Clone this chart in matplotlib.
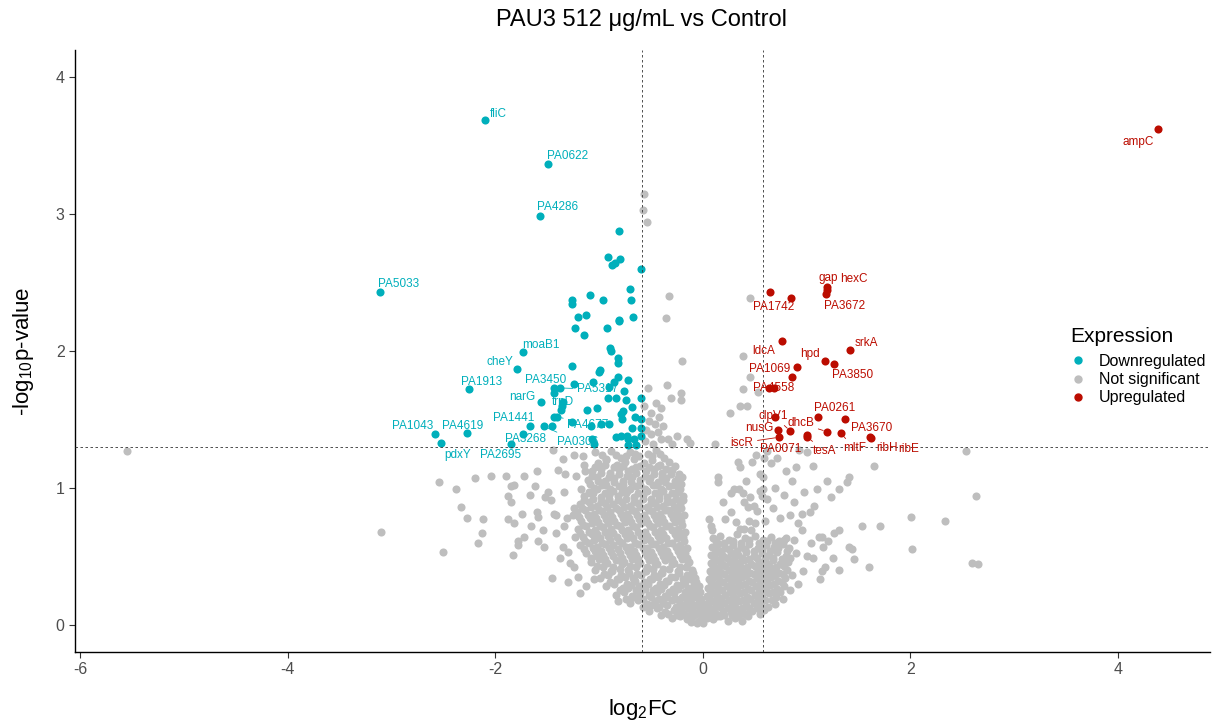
import matplotlib
matplotlib.use('Agg')
import matplotlib.pyplot as plt
from matplotlib.lines import Line2D

plt.rcParams['font.family'] = ['Liberation Sans', 'DejaVu Sans']
plt.rcParams['mathtext.fontset'] = 'custom'
plt.rcParams['mathtext.rm'] = 'Liberation Sans'
plt.rcParams['mathtext.it'] = 'Liberation Sans:italic'
plt.rcParams['axes.unicode_minus'] = False

# labelled downregulated genes
down_genes = ['fliC', 'PA0622', 'PA4286', 'PA5033', 'moaB1', 'cheY', 'PA1913', 'PA3450', 'PA5317', 'narG',
              'trpD', 'PA4677', 'PA1441', 'PA3268', 'PA0306', 'PA1043', 'PA4619', 'pdxY', 'PA2695']
down_x = [-2.10, -1.49, -1.57, -3.11, -1.73, -1.79, -2.25, -1.43, -1.375, -1.56,
          -1.36, -1.40, -1.66, -1.73, -1.53, -2.58, -2.27, -2.52, -1.85]
down_y = [3.69, 3.365, 2.99, 2.43, 1.99, 1.87, 1.72, 1.73, 1.73, 1.63,
          1.60, 1.52, 1.45, 1.39, 1.45, 1.39, 1.40, 1.33, 1.32]

# other downregulated genes (no label)
down_other = [(-0.81, 2.88), (-0.91, 2.69), (-0.80, 2.67), (-0.875, 2.63), (-0.846, 2.64), (-0.59, 2.60),
              (-0.70, 2.45), (-1.09, 2.41), (-1.26, 2.37), (-1.26, 2.34), (-0.96, 2.37), (-0.69, 2.37),
              (-1.20, 2.25), (-1.12, 2.26), (-0.81, 2.23), (-0.67, 2.25), (-1.23, 2.17), (-1.14, 2.12),
              (-0.92, 2.17), (-0.81, 2.22), (-0.89, 2.02), (-0.88, 2.00), (-0.82, 1.95), (-0.82, 1.91),
              (-1.26, 1.89), (-0.99, 1.86), (-1.00, 1.85), (-0.82, 1.81), (-0.72, 1.79), (-0.85, 1.77),
              (-1.06, 1.77), (-1.24, 1.76), (-0.90, 1.74), (-1.43, 1.69), (-0.76, 1.71), (-0.91, 1.66),
              (-0.84, 1.66), (-0.59, 1.66), (-0.74, 1.64), (-1.35, 1.63), (-1.37, 1.57), (-0.68, 1.59),
              (-1.115, 1.57), (-1.02, 1.58), (-0.77, 1.56), (-0.79, 1.54), (-0.78, 1.50), (-1.43, 1.52),
              (-0.65, 1.52), (-0.59, 1.50), (-1.26, 1.48), (-1.08, 1.45), (-0.98, 1.47), (-0.90, 1.47),
              (-1.45, 1.45), (-0.68, 1.44), (-0.59, 1.44), (-0.84, 1.37), (-0.79, 1.38), (-0.73, 1.38),
              (-0.72, 1.36), (-1.07, 1.36), (-0.66, 1.36), (-0.59, 1.38), (-0.72, 1.31), (-0.64, 1.31),
              (-1.05, 1.32)]

# labelled upregulated genes
up_genes = ['ampC', 'PA1742', 'gap', 'hexC', 'PA3672', 'ldcA', 'srkA', 'hpd', 'PA3850', 'PA1069',
            'PA4558', 'PA0261', 'PA3670', 'clpV1', 'nusG', 'dhcB', 'mltF', 'ribH', 'ribE', 'iscR',
            'PA0071', 'tesA']
up_x = [4.39, 0.645, 1.20, 1.20, 1.19, 0.76, 1.42, 1.18, 1.27, 0.91,
        0.635, 1.115, 1.375, 0.845, 0.73, 1.20, 1.33, 1.615, 1.625, 0.74,
        1.01, 1.01]
up_y = [3.62, 2.43, 2.47, 2.445, 2.42, 2.07, 2.01, 1.93, 1.905, 1.88,
        1.73, 1.52, 1.50, 1.415, 1.42, 1.41, 1.40, 1.37, 1.365, 1.37,
        1.385, 1.37]

up_other = [(0.85, 2.39), (0.865, 1.81), (0.69, 1.73), (0.70, 1.52)]

# not significant genes
ns_points = [
    # far / sparse
    (-5.55, 1.27), (-3.10, 0.68), (-2.54, 1.04), (-2.38, 0.99), (-2.19, 1.07), (-2.04, 1.09), (-1.90, 1.09),
    (-1.72, 1.09), (-1.60, 1.12), (-2.33, 0.86), (-2.27, 0.78), (-2.12, 0.77), (-2.13, 0.67), (-2.17, 0.60),
    (-2.50, 0.53), (-1.44, 1.28), (-1.35, 1.21), (-1.24, 1.24), (-1.15, 1.23), (-1.04, 1.26), (-1.39, 1.13),
    (-1.33, 1.10), (-1.14, 1.17), (-1.13, 1.12), (-1.22, 1.09), (-1.85, 1.01), (-1.82, 1.02), (-1.62, 1.01),
    (-1.66, 0.95), (-1.88, 0.94), (-1.85, 0.90), (-1.49, 0.97), (-1.52, 0.93), (-1.46, 0.91), (-1.34, 0.97),
    (-1.17, 0.99), (-1.09, 0.96), (-1.88, 0.77), (-1.82, 0.74), (-1.74, 0.81), (-1.60, 0.82), (-1.59, 0.79),
    (-1.65, 0.72), (-1.54, 0.69), (-1.43, 0.81), (-1.41, 0.80), (-1.31, 0.78), (-1.24, 0.85), (-1.25, 0.80),
    (-1.34, 0.72), (-1.41, 0.67), (-1.23, 0.64), (-1.72, 0.64), (-1.78, 0.61), (-1.78, 0.58), (-1.59, 0.61),
    (-1.53, 0.57), (-1.83, 0.51), (-1.35, 0.57), (-1.30, 0.53), (-1.38, 0.49), (-1.24, 0.42), (-1.45, 0.34),
    (-1.30, 0.31), (-1.20, 0.35), (-1.05, 0.33), (-1.18, 0.23), (-0.82, 0.17), (-1.12, 0.28), (-1.28, 0.45),
    # between the fold change lines, above p threshold
    (-0.567, 3.15), (-0.577, 3.03), (-0.54, 2.94), (-0.32, 2.40), (-0.35, 2.24), (-0.20, 1.93), (-0.53, 1.73),
    (-0.34, 1.75), (-0.21, 1.69), (-0.31, 1.66), (-0.21, 1.64), (-0.45, 1.62), (-0.40, 1.58), (-0.50, 1.55),
    (-0.42, 1.52), (-0.52, 1.49), (-0.46, 1.47), (-0.38, 1.45), (-0.43, 1.41), (-0.50, 1.39), (-0.40, 1.36),
    (-0.33, 1.36), (-0.55, 1.42), (-0.25, 1.38), (-0.15, 1.36), (-0.57, 1.60), (-0.56, 1.34), (-0.12, 1.33),
    (-0.30, 1.32), (-0.48, 1.32), (0.46, 2.39), (0.39, 1.96), (0.46, 1.81), (0.385, 1.72), (0.53, 1.70),
    (0.36, 1.60), (0.43, 1.60), (0.26, 1.55), (0.115, 1.32),
    # right side sparse
    (2.54, 1.27), (2.63, 0.94), (2.34, 0.76), (2.01, 0.79), (2.02, 0.55), (2.60, 0.45), (2.65, 0.44),
    (1.65, 1.16), (1.41, 1.08), (1.39, 1.04), (1.20, 1.05), (1.31, 0.99), (1.10, 0.99), (1.24, 0.93),
    (0.98, 0.97), (1.07, 0.87), (1.03, 0.82), (0.96, 0.81), (1.54, 0.72), (1.71, 0.72), (0.96, 0.69),
    (1.31, 0.69), (1.27, 0.67), (1.12, 0.64), (1.15, 0.64), (1.21, 0.61), (1.16, 0.57), (1.04, 0.60),
    (1.41, 0.57), (1.44, 0.55), (1.01, 0.50), (1.06, 0.49), (1.26, 0.49), (1.46, 0.48), (1.60, 0.42),
    (1.31, 0.40), (1.18, 0.42), (1.15, 0.39), (0.97, 0.39), (1.13, 0.33), (1.01, 1.26), (1.06, 1.16),
    (0.62, 1.27), (0.66, 1.18), (0.72, 1.22), (0.80, 1.12), (0.86, 1.05), (0.90, 1.15), (0.93, 1.28),
    (0.58, 1.08), (0.70, 1.00), (0.78, 0.95), (0.88, 0.90), (0.62, 0.92), (0.55, 0.98), (0.68, 0.85),
    (0.84, 0.80), (0.92, 0.74), (0.75, 0.78), (0.60, 0.76), (0.52, 0.83), (0.88, 0.62), (0.90, 0.52),
    (0.86, 0.36), (0.92, 0.30), (0.84, 0.25),
    (0.15, 1.08), (0.15, 1.04), (0.20, 0.90), (0.27, 0.96), (0.30, 0.99), (0.36, 1.15), (0.34, 1.19),
    (0.48, 1.19), (0.51, 1.24), (0.59, 1.22), (0.55, 1.10), (0.35, 0.99), (0.39, 0.96), (0.40, 0.90),
    (0.44, 0.86), (0.46, 0.93), (0.49, 0.87), (0.58, 0.99), (0.57, 0.94), (0.22, 0.77), (0.06, 0.77),
    (0.08, 0.72), (0.09, 0.69), (0.32, 0.75), (0.40, 0.70), (0.45, 0.76), (0.50, 0.74), (0.47, 0.69),
    (0.36, 0.70), (0.27, 0.82), (0.42, 1.05),
    # left lobe of the cloud
    (-0.97, 1.24), (-0.88, 1.27), (-0.79, 1.22), (-0.70, 1.26), (-0.61, 1.23), (-0.53, 1.25), (-0.45, 1.28),
    (-0.37, 1.22), (-1.01, 1.18), (-0.93, 1.20), (-0.83, 1.17), (-0.75, 1.19), (-0.66, 1.21), (-0.57, 1.18),
    (-0.49, 1.20), (-0.41, 1.17), (-0.32, 1.19), (-1.07, 1.12), (-0.98, 1.14), (-0.89, 1.11), (-0.81, 1.14),
    (-0.72, 1.12), (-0.64, 1.15), (-0.55, 1.12), (-0.47, 1.14), (-0.39, 1.11), (-0.30, 1.13), (-0.23, 1.10),
    (-1.11, 1.06), (-1.02, 1.08), (-0.94, 1.05), (-0.85, 1.07), (-0.77, 1.05), (-0.68, 1.08), (-0.60, 1.06),
    (-0.51, 1.07), (-0.43, 1.04), (-0.35, 1.07), (-0.27, 1.05), (-0.20, 1.08), (-1.05, 1.00), (-0.97, 1.02),
    (-0.89, 0.99), (-0.81, 1.01), (-0.73, 0.98), (-0.64, 1.01), (-0.56, 0.99), (-0.48, 1.02), (-0.40, 0.99),
    (-0.32, 1.01), (-0.24, 0.98), (-1.14, 0.94), (-1.06, 0.96), (-0.98, 0.93), (-0.90, 0.95), (-0.82, 0.94),
    (-0.74, 0.96), (-0.66, 0.93), (-0.58, 0.95), (-0.50, 0.92), (-0.42, 0.95), (-0.34, 0.93), (-0.26, 0.96),
    (-0.19, 0.94), (-1.18, 0.88), (-1.10, 0.90), (-1.02, 0.87), (-0.94, 0.89), (-0.86, 0.88), (-0.78, 0.90),
    (-0.70, 0.87), (-0.62, 0.89), (-0.54, 0.86), (-0.46, 0.89), (-0.38, 0.87), (-0.30, 0.90), (-0.22, 0.88),
    (-1.21, 0.82), (-1.13, 0.84), (-1.05, 0.81), (-0.97, 0.83), (-0.89, 0.82), (-0.81, 0.84), (-0.73, 0.81),
    (-0.65, 0.83), (-0.57, 0.80), (-0.49, 0.83), (-0.41, 0.81), (-0.33, 0.84), (-0.25, 0.82), (-0.18, 0.80),
    (-1.17, 0.76), (-1.09, 0.78), (-1.01, 0.75), (-0.93, 0.77), (-0.85, 0.76), (-0.77, 0.78), (-0.69, 0.75),
    (-0.61, 0.77), (-0.53, 0.74), (-0.45, 0.77), (-0.37, 0.75), (-0.29, 0.78), (-0.21, 0.76), (-1.20, 0.70),
    (-1.12, 0.72), (-1.04, 0.69), (-0.96, 0.71), (-0.88, 0.70), (-0.80, 0.72), (-0.72, 0.69), (-0.64, 0.71),
    (-0.56, 0.68), (-0.48, 0.71), (-0.40, 0.69), (-0.32, 0.72), (-0.24, 0.70), (-0.17, 0.68), (-1.15, 0.64),
    (-1.07, 0.66), (-0.99, 0.63), (-0.91, 0.65), (-0.83, 0.64), (-0.75, 0.66), (-0.67, 0.63), (-0.59, 0.65),
    (-0.51, 0.62), (-0.43, 0.65), (-0.35, 0.63), (-0.27, 0.66), (-0.19, 0.64), (-1.18, 0.58), (-1.10, 0.60),
    (-1.02, 0.57), (-0.94, 0.59), (-0.86, 0.58), (-0.78, 0.60), (-0.70, 0.57), (-0.62, 0.59), (-0.54, 0.56),
    (-0.46, 0.59), (-0.38, 0.57), (-0.30, 0.60), (-0.22, 0.58), (-0.15, 0.56), (-1.12, 0.52), (-1.04, 0.54),
    (-0.96, 0.51), (-0.88, 0.53), (-0.80, 0.52), (-0.72, 0.54), (-0.64, 0.51), (-0.56, 0.53), (-0.48, 0.50),
    (-0.40, 0.53), (-0.32, 0.51), (-0.24, 0.54), (-0.17, 0.52), (-1.08, 0.46), (-1.00, 0.48), (-0.92, 0.45),
    (-0.84, 0.47), (-0.76, 0.46), (-0.68, 0.48), (-0.60, 0.45), (-0.52, 0.47), (-0.44, 0.44), (-0.36, 0.47),
    (-0.28, 0.45), (-0.20, 0.48), (-0.13, 0.46), (-1.04, 0.40), (-0.96, 0.42), (-0.88, 0.39), (-0.80, 0.41),
    (-0.72, 0.40), (-0.64, 0.42), (-0.56, 0.39), (-0.48, 0.41), (-0.40, 0.38), (-0.32, 0.41), (-0.24, 0.39),
    (-0.16, 0.42), (-0.10, 0.40), (-0.99, 0.34), (-0.91, 0.36), (-0.83, 0.33), (-0.75, 0.35), (-0.67, 0.34),
    (-0.59, 0.36), (-0.51, 0.33), (-0.43, 0.35), (-0.35, 0.32), (-0.27, 0.35), (-0.19, 0.33), (-0.12, 0.36),
    (-0.07, 0.34), (-0.93, 0.28), (-0.85, 0.30), (-0.77, 0.27), (-0.69, 0.29), (-0.61, 0.28), (-0.53, 0.30),
    (-0.45, 0.27), (-0.37, 0.29), (-0.29, 0.26), (-0.21, 0.29), (-0.14, 0.27), (-0.08, 0.30), (-0.04, 0.28),
    (-0.84, 0.22), (-0.76, 0.24), (-0.68, 0.21), (-0.60, 0.23), (-0.52, 0.22), (-0.44, 0.24), (-0.36, 0.21),
    (-0.28, 0.23), (-0.20, 0.20), (-0.13, 0.23), (-0.07, 0.21), (-0.03, 0.24), (-0.70, 0.16), (-0.62, 0.18),
    (-0.54, 0.15), (-0.46, 0.17), (-0.38, 0.16), (-0.30, 0.18), (-0.22, 0.15), (-0.15, 0.17), (-0.09, 0.14),
    (-0.04, 0.17), (-0.52, 0.10), (-0.44, 0.12), (-0.36, 0.09), (-0.28, 0.11), (-0.21, 0.10), (-0.14, 0.12),
    (-0.08, 0.09), (-0.03, 0.11), (-0.30, 0.05), (-0.22, 0.06), (-0.15, 0.04), (-0.09, 0.06), (-0.04, 0.03),
    (0.00, 0.01),
    # left lobe fill
    (-0.93, 1.21), (-0.84, 1.24), (-0.74, 1.23), (-0.65, 1.25), (-0.49, 1.23), (-0.41, 1.25), (-1.04, 1.15),
    (-0.94, 1.17), (-0.85, 1.15), (-0.77, 1.16), (-0.68, 1.14), (-0.60, 1.16), (-0.52, 1.15), (-0.43, 1.16),
    (-0.35, 1.14), (-0.27, 1.16), (-1.07, 1.09), (-0.98, 1.11), (-0.90, 1.08), (-0.81, 1.10), (-0.73, 1.09),
    (-0.64, 1.11), (-0.56, 1.09), (-0.47, 1.10), (-0.39, 1.08), (-0.31, 1.10), (-0.24, 1.07), (-1.09, 1.03),
    (-1.01, 1.05), (-0.93, 1.02), (-0.85, 1.04), (-0.77, 1.02), (-0.69, 1.04), (-0.60, 1.02), (-0.52, 1.05),
    (-0.44, 1.02), (-0.36, 1.04), (-0.28, 1.02), (-0.21, 1.03), (-1.10, 0.97), (-1.02, 0.99), (-0.94, 0.96),
    (-0.86, 0.98), (-0.78, 0.97), (-0.70, 0.99), (-0.62, 0.96), (-0.54, 0.98), (-0.46, 0.96), (-0.38, 0.98),
    (-0.30, 0.96), (-0.22, 0.99), (-1.14, 0.91), (-1.06, 0.92), (-0.98, 0.90), (-0.90, 0.92), (-0.82, 0.91),
    (-0.74, 0.92), (-0.66, 0.90), (-0.58, 0.92), (-0.50, 0.89), (-0.42, 0.92), (-0.34, 0.90), (-0.26, 0.92),
    (-0.19, 0.91), (-1.16, 0.85), (-1.08, 0.86), (-1.00, 0.84), (-0.92, 0.86), (-0.84, 0.85), (-0.76, 0.86),
    (-0.68, 0.84), (-0.60, 0.86), (-0.52, 0.84), (-0.44, 0.86), (-0.36, 0.84), (-0.28, 0.86), (-0.21, 0.85),
    (-1.19, 0.79), (-1.11, 0.80), (-1.03, 0.78), (-0.95, 0.80), (-0.87, 0.79), (-0.79, 0.81), (-0.71, 0.78),
    (-0.63, 0.80), (-0.55, 0.77), (-0.47, 0.80), (-0.39, 0.78), (-0.31, 0.81), (-0.23, 0.79), (-1.15, 0.73),
    (-1.07, 0.74), (-0.99, 0.72), (-0.91, 0.74), (-0.83, 0.73), (-0.75, 0.75), (-0.67, 0.72), (-0.59, 0.74),
    (-0.51, 0.72), (-0.43, 0.74), (-0.35, 0.72), (-0.27, 0.75), (-0.20, 0.73), (-1.18, 0.67), (-1.10, 0.68),
    (-1.02, 0.66), (-0.94, 0.68), (-0.86, 0.67), (-0.78, 0.69), (-0.70, 0.66), (-0.62, 0.68), (-0.54, 0.65),
    (-0.46, 0.68), (-0.38, 0.66), (-0.30, 0.69), (-0.22, 0.67), (-1.13, 0.61), (-1.05, 0.62), (-0.97, 0.60),
    (-0.89, 0.62), (-0.81, 0.61), (-0.73, 0.63), (-0.65, 0.60), (-0.57, 0.62), (-0.49, 0.59), (-0.41, 0.62),
    (-0.33, 0.60), (-0.25, 0.63), (-0.18, 0.61), (-1.14, 0.55), (-1.06, 0.56), (-0.98, 0.54), (-0.90, 0.56),
    (-0.82, 0.55), (-0.74, 0.57), (-0.66, 0.54), (-0.58, 0.56), (-0.50, 0.53), (-0.42, 0.56), (-0.34, 0.54),
    (-0.26, 0.57), (-0.19, 0.55), (-1.08, 0.49), (-1.02, 0.50), (-0.94, 0.48), (-0.86, 0.50), (-0.78, 0.49),
    (-0.70, 0.51), (-0.62, 0.48), (-0.54, 0.50), (-0.46, 0.47), (-0.38, 0.50), (-0.30, 0.48), (-0.22, 0.51),
    (-0.15, 0.49), (-1.02, 0.43), (-0.94, 0.45), (-0.86, 0.42), (-0.78, 0.44), (-0.70, 0.43), (-0.62, 0.45),
    (-0.54, 0.42), (-0.46, 0.44), (-0.38, 0.41), (-0.30, 0.44), (-0.22, 0.42), (-0.14, 0.45), (-0.95, 0.37),
    (-0.87, 0.39), (-0.79, 0.36), (-0.71, 0.38), (-0.63, 0.37), (-0.55, 0.39), (-0.47, 0.36), (-0.39, 0.38),
    (-0.31, 0.35), (-0.23, 0.38), (-0.15, 0.36), (-0.09, 0.38), (-0.89, 0.31), (-0.81, 0.33), (-0.73, 0.30),
    (-0.65, 0.32), (-0.57, 0.31), (-0.49, 0.33), (-0.41, 0.30), (-0.33, 0.32), (-0.25, 0.29), (-0.17, 0.31),
    (-0.11, 0.33), (-0.06, 0.31), (-0.80, 0.25), (-0.72, 0.27), (-0.64, 0.25), (-0.56, 0.26), (-0.48, 0.25),
    (-0.40, 0.26), (-0.32, 0.24), (-0.24, 0.26), (-0.17, 0.24), (-0.10, 0.26), (-0.05, 0.25), (-0.74, 0.19),
    (-0.66, 0.20), (-0.58, 0.19), (-0.50, 0.20), (-0.42, 0.19), (-0.34, 0.20), (-0.26, 0.19), (-0.18, 0.20),
    (-0.11, 0.19), (-0.06, 0.20), (-0.02, 0.19), (-0.58, 0.13), (-0.50, 0.14), (-0.42, 0.13), (-0.34, 0.14),
    (-0.26, 0.13), (-0.18, 0.14), (-0.11, 0.13), (-0.05, 0.14), (-0.01, 0.13), (-0.40, 0.07), (-0.33, 0.08),
    (-0.25, 0.07), (-0.18, 0.08), (-0.12, 0.07), (-0.06, 0.08), (-0.01, 0.06), (-0.11, 0.02), (-0.05, 0.01),
    # right lobe of the cloud
    (0.10, 0.63), (0.17, 0.65), (0.25, 0.62), (0.33, 0.66), (0.41, 0.63), (0.50, 0.65), (0.58, 0.62),
    (0.66, 0.64), (0.74, 0.61), (0.80, 0.63), (0.09, 0.57), (0.15, 0.59), (0.22, 0.56), (0.29, 0.58),
    (0.37, 0.57), (0.45, 0.59), (0.53, 0.56), (0.61, 0.58), (0.69, 0.57), (0.77, 0.59), (0.83, 0.56),
    (0.08, 0.51), (0.14, 0.53), (0.20, 0.50), (0.27, 0.52), (0.34, 0.51), (0.42, 0.53), (0.49, 0.50),
    (0.57, 0.52), (0.64, 0.51), (0.72, 0.53), (0.80, 0.50), (0.08, 0.45), (0.13, 0.47), (0.19, 0.44),
    (0.26, 0.46), (0.33, 0.45), (0.40, 0.47), (0.47, 0.44), (0.54, 0.46), (0.61, 0.45), (0.68, 0.47),
    (0.75, 0.44), (0.82, 0.46), (0.07, 0.39), (0.12, 0.41), (0.18, 0.38), (0.25, 0.40), (0.32, 0.39),
    (0.39, 0.41), (0.46, 0.38), (0.53, 0.40), (0.60, 0.39), (0.67, 0.41), (0.74, 0.38), (0.81, 0.40),
    (0.06, 0.33), (0.11, 0.35), (0.17, 0.32), (0.24, 0.34), (0.31, 0.33), (0.38, 0.35), (0.45, 0.32),
    (0.52, 0.34), (0.59, 0.33), (0.66, 0.35), (0.73, 0.32), (0.79, 0.34), (0.05, 0.27), (0.10, 0.29),
    (0.16, 0.26), (0.23, 0.28), (0.30, 0.27), (0.37, 0.29), (0.44, 0.26), (0.51, 0.28), (0.58, 0.27),
    (0.65, 0.29), (0.72, 0.26), (0.78, 0.28), (0.04, 0.21), (0.09, 0.23), (0.15, 0.20), (0.22, 0.22),
    (0.29, 0.21), (0.36, 0.23), (0.43, 0.20), (0.50, 0.22), (0.57, 0.21), (0.64, 0.23), (0.71, 0.20),
    (0.77, 0.19), (0.03, 0.15), (0.08, 0.17), (0.14, 0.14), (0.21, 0.16), (0.28, 0.15), (0.35, 0.17),
    (0.42, 0.14), (0.49, 0.16), (0.56, 0.15), (0.63, 0.13), (0.70, 0.15), (0.02, 0.09), (0.07, 0.11),
    (0.13, 0.08), (0.20, 0.10), (0.27, 0.09), (0.34, 0.11), (0.41, 0.08), (0.48, 0.10), (0.55, 0.08),
    (0.04, 0.05), (0.10, 0.04), (0.17, 0.06), (0.24, 0.03), (0.31, 0.05), (0.38, 0.03),
    (0.13, 0.61), (0.21, 0.60), (0.29, 0.61), (0.37, 0.60), (0.45, 0.62), (0.54, 0.60), (0.62, 0.61),
    (0.70, 0.60), (0.78, 0.62), (0.12, 0.55), (0.18, 0.54), (0.25, 0.55), (0.33, 0.54), (0.41, 0.55),
    (0.49, 0.54), (0.57, 0.55), (0.65, 0.54), (0.73, 0.56), (0.81, 0.54), (0.11, 0.49), (0.17, 0.48),
    (0.23, 0.49), (0.30, 0.48), (0.38, 0.49), (0.45, 0.48), (0.52, 0.49), (0.60, 0.48), (0.68, 0.49),
    (0.76, 0.48), (0.84, 0.49), (0.10, 0.43), (0.16, 0.42), (0.22, 0.43), (0.29, 0.42), (0.36, 0.43),
    (0.43, 0.42), (0.50, 0.43), (0.57, 0.42), (0.64, 0.43), (0.71, 0.42), (0.78, 0.43), (0.09, 0.37),
    (0.15, 0.36), (0.21, 0.37), (0.28, 0.36), (0.35, 0.37), (0.42, 0.36), (0.49, 0.37), (0.56, 0.36),
    (0.63, 0.37), (0.70, 0.36), (0.77, 0.37), (0.08, 0.31), (0.14, 0.30), (0.20, 0.31), (0.27, 0.30),
    (0.34, 0.31), (0.41, 0.30), (0.48, 0.31), (0.55, 0.30), (0.62, 0.31), (0.69, 0.30), (0.76, 0.31),
    (0.07, 0.25), (0.13, 0.24), (0.19, 0.25), (0.26, 0.24), (0.33, 0.25), (0.40, 0.24), (0.47, 0.25),
    (0.54, 0.24), (0.61, 0.25), (0.68, 0.24), (0.75, 0.24), (0.06, 0.19), (0.12, 0.18), (0.18, 0.19),
    (0.25, 0.18), (0.32, 0.19), (0.39, 0.18), (0.46, 0.19), (0.53, 0.18), (0.60, 0.18), (0.67, 0.18),
    (0.05, 0.13), (0.11, 0.12), (0.17, 0.13), (0.24, 0.12), (0.31, 0.13), (0.38, 0.12), (0.45, 0.12),
    (0.52, 0.12), (0.59, 0.11), (0.07, 0.07), (0.14, 0.06), (0.21, 0.07), (0.28, 0.07), (0.35, 0.07),
    (0.44, 0.06),
]

# label text offsets (points) and whether a segment is drawn
down_offsets = [(10, 4), (14, 6), (13, 6), (13, 6), (13, 5), (-12, 5), (9, 5), (-6, 6), (27, -1), (-13, 3),
                (1, 3), (22, -6), (-12, 6), (2, -3), (24, -11), (-16, 6), (-3, 5), (12, -9), (-7, -8)]
down_seg = [False, False, False, False, False, False, False, False, True, False,
            False, True, False, False, True, False, False, False, False]
up_offsets = [(-14, -9), (3, -11), (1, 6), (19, 8), (13, -9), (-13, -7), (12, 5), (-11, 5), (13, -8), (-20, -1),
              (4, 0), (12, 6), (19, -6), (-12, 11), (-14, 2), (-19, 6), (10, -11), (12, -8), (27, -8), (-27, -4),
              (-19, -10), (12, -10)]
up_seg = [False, False, False, False, False, False, False, False, False, False,
          False, False, False, True, False, True, True, False, False, True,
          False, True]

col_down = '#00AFBB'
col_ns = '#BEBEBE'
col_up = '#BB0C00'
pt_size = 34

fig = plt.figure(figsize=(12.14, 7.25), dpi=100)
ax = fig.add_axes([75 / 1214, 73 / 725, 1135 / 1214, 602 / 725])

ns_x = [p[0] for p in ns_points]
ns_y = [p[1] for p in ns_points]
ax.scatter(ns_x, ns_y, s=pt_size, c=col_ns, linewidths=0, zorder=2)
ax.scatter([p[0] for p in down_other], [p[1] for p in down_other], s=pt_size, c=col_down, linewidths=0, zorder=3)
ax.scatter(down_x, down_y, s=pt_size, c=col_down, linewidths=0, zorder=3)
ax.scatter([p[0] for p in up_other], [p[1] for p in up_other], s=pt_size, c=col_up, linewidths=0, zorder=3)
ax.scatter(up_x, up_y, s=pt_size, c=col_up, linewidths=0, zorder=3)

# thresholds
for xv in (-0.585, 0.585):
    ax.axvline(xv, color='#333333', lw=0.6, ls=(0, (3, 3)), zorder=4)
ax.axhline(1.301, color='#333333', lw=0.6, ls=(0, (3, 3)), zorder=4)


def add_labels(genes, xs, ys, offsets, segs, col):
    for g, x, y, off, sg in zip(genes, xs, ys, offsets, segs):
        arrow = dict(arrowstyle='-', color=col, lw=0.6, shrinkA=1, shrinkB=3) if sg else None
        ax.annotate(g, (x, y), xytext=off, textcoords='offset points', ha='center', va='center',
                    fontsize=8.5, color=col, arrowprops=arrow, zorder=5)


add_labels(down_genes, down_x, down_y, down_offsets, down_seg, col_down)
add_labels(up_genes, up_x, up_y, up_offsets, up_seg, col_up)

ax.set_xlim(-6.05, 4.89)
ax.set_ylim(-0.2, 4.2)
ax.set_xticks([-6, -4, -2, 0, 2, 4])
ax.set_xticklabels(['-6', '-4', '-2', '0', '2', '4'])
ax.set_yticks([0, 1, 2, 3, 4])
ax.tick_params(colors='#333333', labelcolor='#4D4D4D', labelsize=11.5, length=4, width=0.8)
for side in ('top', 'right'):
    ax.spines[side].set_visible(False)
for side in ('left', 'bottom'):
    ax.spines[side].set_linewidth(1.0)
    ax.spines[side].set_color('black')

ax.set_xlabel(r'log$_2$FC', fontsize=16, labelpad=14)
ax.set_ylabel(r'-log$_{10}$p-value', fontsize=16, labelpad=14)
fig.text(642 / 1214, 1 - 20 / 725, 'PAU3 512 μg/mL vs Control', ha='center', va='center', fontsize=17)

# legend
fig.text(1070 / 1214, 1 - 336 / 725, 'Expression', ha='left', va='center', fontsize=15)
handles = [Line2D([], [], ls='', marker='o', ms=5, color=c) for c in (col_down, col_ns, col_up)]
leg = fig.legend(handles, ['Downregulated', 'Not significant', 'Upregulated'],
                 loc='upper left', bbox_to_anchor=(1068 / 1214, 1 - 354 / 725), frameon=False,
                 fontsize=11.5, handlelength=1.2, handletextpad=0.75, labelspacing=0.2,
                 borderpad=0, borderaxespad=0)

fig.savefig('out.png', dpi=100)
